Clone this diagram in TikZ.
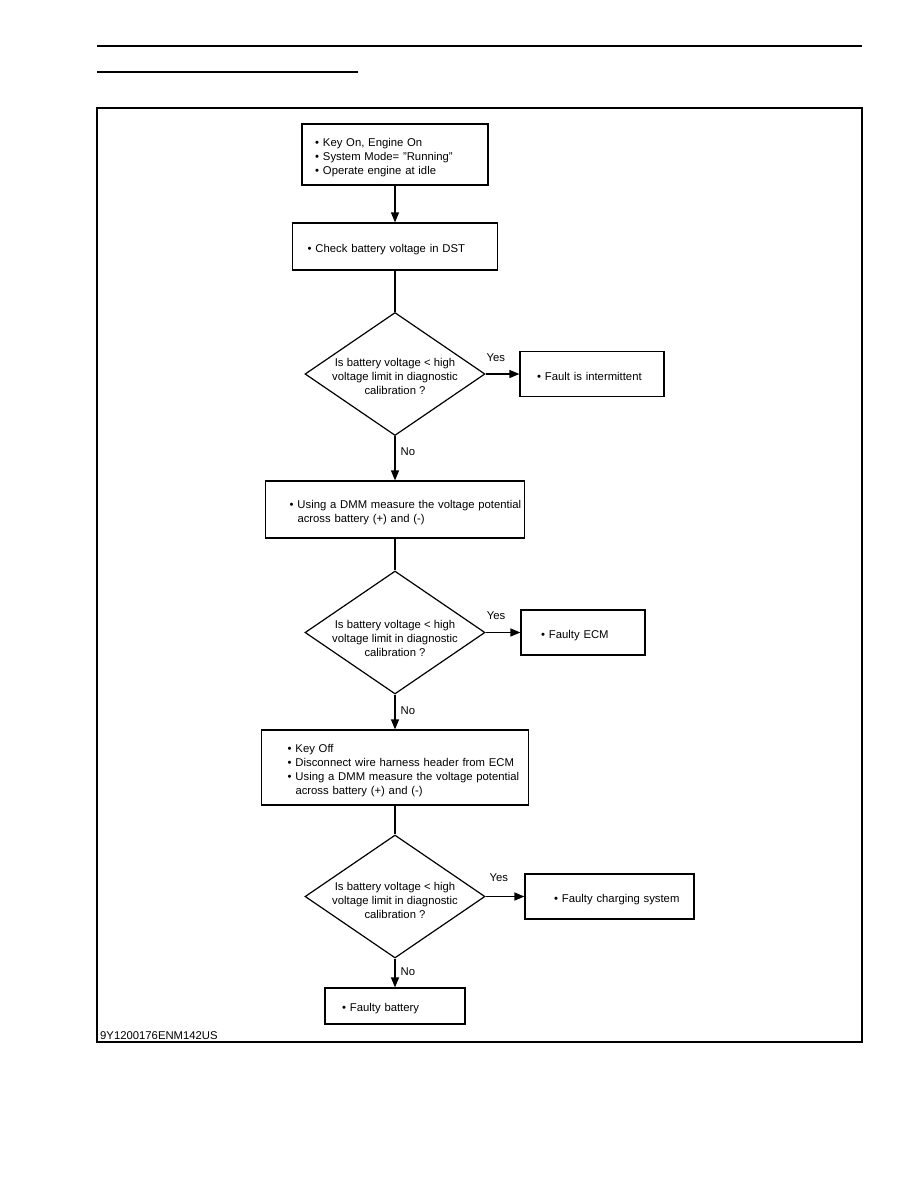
\documentclass[tikz,border=0pt]{standalone}
\usepackage{fontspec}
\setmainfont{Liberation Sans}
\usetikzlibrary{shapes.geometric,arrows.meta}

\newlength{\padw}
\newcommand{\bul}{\hspace*{\padw}\makebox[8pt][l]{\textbullet}}
\newcommand{\ind}{\hspace*{\padw}\hspace*{8pt}}

\tikzset{
  stepbox/.style n args={3}{draw, line width=1.2pt, text width=#1, minimum height=#2,
    inner xsep=0pt, inner ysep=0pt, align=left,
    execute at begin node={\setlength{\padw}{#3}\rule{0pt}{13.5pt}}},
  check/.style={draw, diamond, line width=1.2pt, minimum width=180pt,
    minimum height=123pt, inner sep=0pt},
  qtext/.style={align=center, inner sep=0pt},
  flow/.style={line width=1.2pt, -{Triangle[length=10pt,width=8pt]}},
  link/.style={line width=1.2pt},
  tag/.style={inner sep=2pt},
}

\begin{document}
\begin{tikzpicture}[x=1pt, y=-1pt, font=\fontsize{11.3}{14}\selectfont]
    \useasboundingbox (0,0) rectangle (918,1188);

    % page header rules and frame
    \draw[line width=1.6pt] (97,46) -- (862,46);
    \draw[line width=1.2pt] (97,72) -- (358,72);
    \draw[line width=1.1pt] (97,108) rectangle (862,1042);
    \node[anchor=base west, inner sep=0pt] (code) at (100,1039) {9Y1200176ENM142US};

    % steps
    \node[stepbox={186pt}{61pt}{13pt}] (s1) at (395,154.5)
        {\bul Key On, Engine On\\ \bul System Mode= "Running"\\ \bul Operate engine at idle};
    \node[stepbox={205pt}{47pt}{15pt}] (s2) at (395,246.5)
        {\bul Check battery voltage in DST};

    % first check
    \node[check] (d1) at (395,374) {};
    \node[qtext] (d1t) at (395,376) {Is battery voltage < high\\voltage limit in diagnostic\\calibration ?};
    \node[stepbox={144pt}{45pt}{17pt}] (r1) at (592,374)
        {\bul Fault is intermittent};
    \node[stepbox={259pt}{57pt}{24pt}] (s3) at (395,509.5)
        {\bul Using a DMM measure the voltage potential\\ \ind across battery (+) and (-)};

    % second check
    \node[check] (d2) at (395,632.5) {};
    \node[qtext] (d2t) at (395,638) {Is battery voltage < high\\voltage limit in diagnostic\\calibration ?};
    \node[stepbox={124pt}{45pt}{20pt}] (r2) at (583,632.5)
        {\bul Faulty ECM};
    \node[stepbox={267pt}{75pt}{26pt}] (s4) at (395,767.5)
        {\bul Key Off\\ \bul Disconnect wire harness header from ECM\\
         \bul Using a DMM measure the voltage potential\\ \ind across battery (+) and (-)};

    % third check
    \node[check] (d3) at (395,896.5) {};
    \node[qtext] (d3t) at (395,900.5) {Is battery voltage < high\\voltage limit in diagnostic\\calibration ?};
    \node[stepbox={169pt}{45pt}{29pt}] (r3) at (609.5,896.5)
        {\bul Faulty charging system};
    \node[stepbox={140pt}{36pt}{17pt}] (s5) at (395,1006)
        {\bul Faulty battery};

    % connectors
    \draw[flow] (s1) -- (s2);
    \draw[link] (s2) -- (d1);
    \draw[flow] (d1.east) -- (r1.west) node[tag, pos=0.3, above=10pt] {Yes};
    \draw[flow] (d1) -- (s3) node[tag, pos=0.35, right=3pt] {No};
    \draw[link] (s3) -- (d2);
    \draw[flow] (d2.east) -- (r2.west) node[tag, pos=0.3, above=10pt] {Yes};
    \draw[flow] (d2) -- (s4) node[tag, pos=0.47, right=3pt] {No};
    \draw[link] (s4) -- (d3);
    \draw[flow] (d3.east) -- (r3.west) node[tag, pos=0.34, above=12pt] {Yes};
    \draw[flow] (d3) -- (s5) node[tag, pos=0.47, right=3pt] {No};
\end{tikzpicture}
\end{document}
